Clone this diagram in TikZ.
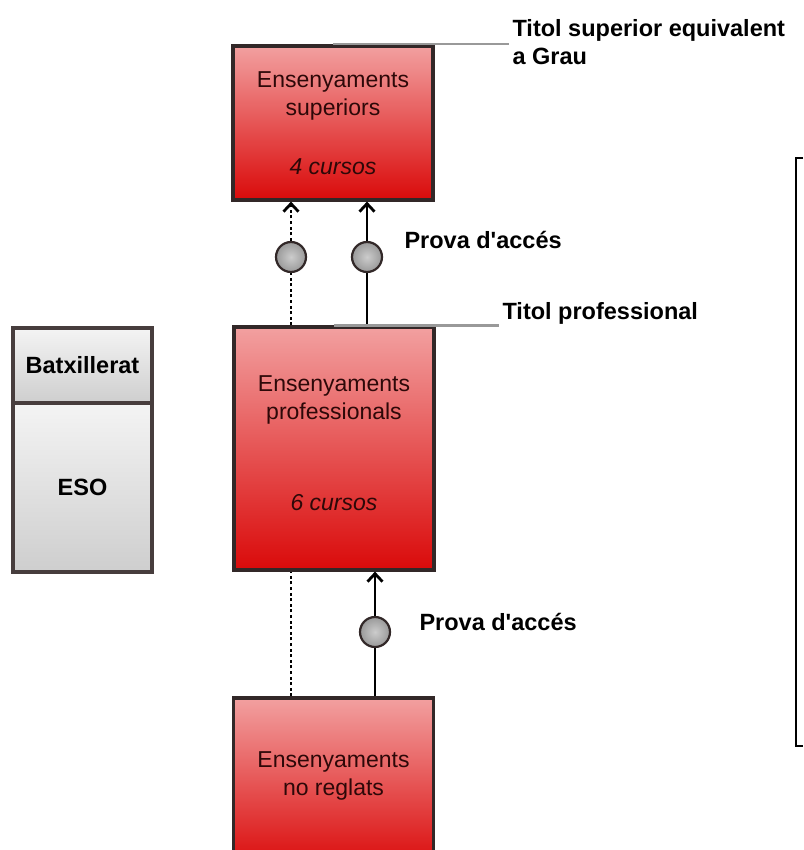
\documentclass[tikz,border=0pt]{standalone}
\usepackage{fontspec}
\setmainfont{Liberation Sans}
\usetikzlibrary{
    positioning,
    arrows.meta,
    calc
}
\definecolor{boxTop}{RGB}{242, 160, 160}
\definecolor{boxBot}{RGB}{218, 10, 10}
\definecolor{greyTop}{RGB}{244, 244, 244}
\definecolor{greyBot}{RGB}{206, 206, 206}
\definecolor{edgeDark}{RGB}{50, 40, 40}
\definecolor{txtDark}{RGB}{45, 8, 8}

\begin{document}
\begin{tikzpicture}[x=1pt, y=-1pt, >={Straight Barb[length=8pt, width=15pt]},
    redbox/.style={draw=edgeDark, line width=3.2pt, top color=boxTop, bottom color=boxBot,
        minimum width=200pt, inner sep=0pt},
    greybox/.style={draw=edgeDark!90, line width=3.2pt, top color=greyTop, bottom color=greyBot,
        minimum width=139pt, inner sep=0pt},
    boxtext/.style={font=\fontsize{23}{28}\selectfont, text=txtDark, align=center},
    tagtext/.style={font=\fontsize{23.5}{28}\selectfont\bfseries, align=left, anchor=west},
    gate/.style={circle, draw=edgeDark, line width=2.2pt, inner color=gray!40, outer color=gray!80,
        minimum size=30pt, inner sep=0pt},
    link/.style={line width=2.8pt, draw=black},
    maybe/.style={link, dash pattern=on 3pt off 2.6pt},
    tagline/.style={line width=2.2pt, draw=gray!80}
]
    \useasboundingbox[fill=white] (0,0) rectangle (803,850);

    % main blocks
    \node[redbox, minimum height=154pt] (sup) at (333,123) {};
    \node[redbox, minimum height=243pt] (prof) at (334,448.5) {};
    \node[redbox, minimum height=170pt] (noreg) at (333.5,783) {};

    \node[boxtext] at (333,96) {Ensenyaments\\superiors};
    \node[boxtext] at (333,167) {\itshape 4 cursos};
    \node[boxtext] at (334,400) {Ensenyaments\\professionals};
    \node[boxtext] at (334,503) {\itshape 6 cursos};
    \node[boxtext] at (333.5,776) {Ensenyaments\\no reglats};

    % left column
    \node[greybox, minimum height=75pt, font=\fontsize{23.5}{28}\selectfont\bfseries] (batx) at (82.5,365.5) {Batxillerat};
    \node[greybox, minimum height=169pt, font=\fontsize{23.5}{28}\selectfont\bfseries] (eso) at (82.5,487.5) {ESO};

    % access tests
    \node[gate] (c1) at (291,257) {};
    \node[gate] (c2) at (367,257) {};
    \node[gate] (c3) at (375,632) {};

    \draw[maybe] (prof.north -| c1) -- (c1);
    \draw[maybe, ->] (c1) -- (sup.south -| c1);
    \draw[link] (prof.north -| c2) -- (c2);
    \draw[link, ->] (c2) -- (sup.south -| c2);
    \draw[maybe] (noreg.north -| c1) -- (prof.south -| c1);
    \draw[link] (noreg.north -| c3) -- (c3);
    \draw[link, ->] (c3) -- (prof.south -| c3);

    % labels
    \node[tagtext] (tsup) at (509,42) {Titol superior equivalent\\a Grau};
    \node[tagtext] (tprof) at (499,313) {Titol professional};
    \node[tagtext] (pa1) at (401,240) {Prova d\textquotesingle acc\'es};
    \node[tagtext] (pa2) at (416,622) {Prova d\textquotesingle acc\'es};

    \draw[tagline] (sup.north) -- (tsup.west |- sup.north);
    \draw[tagline] (prof.north) -- (tprof.west |- prof.north);

    % right bracket
    \coordinate (bt) at (803,158);
    \coordinate (bb) at (803,746);
    \draw[line width=2.2pt] (bt) -- ++(-7,0) |- (bb);
\end{tikzpicture}
\end{document}
